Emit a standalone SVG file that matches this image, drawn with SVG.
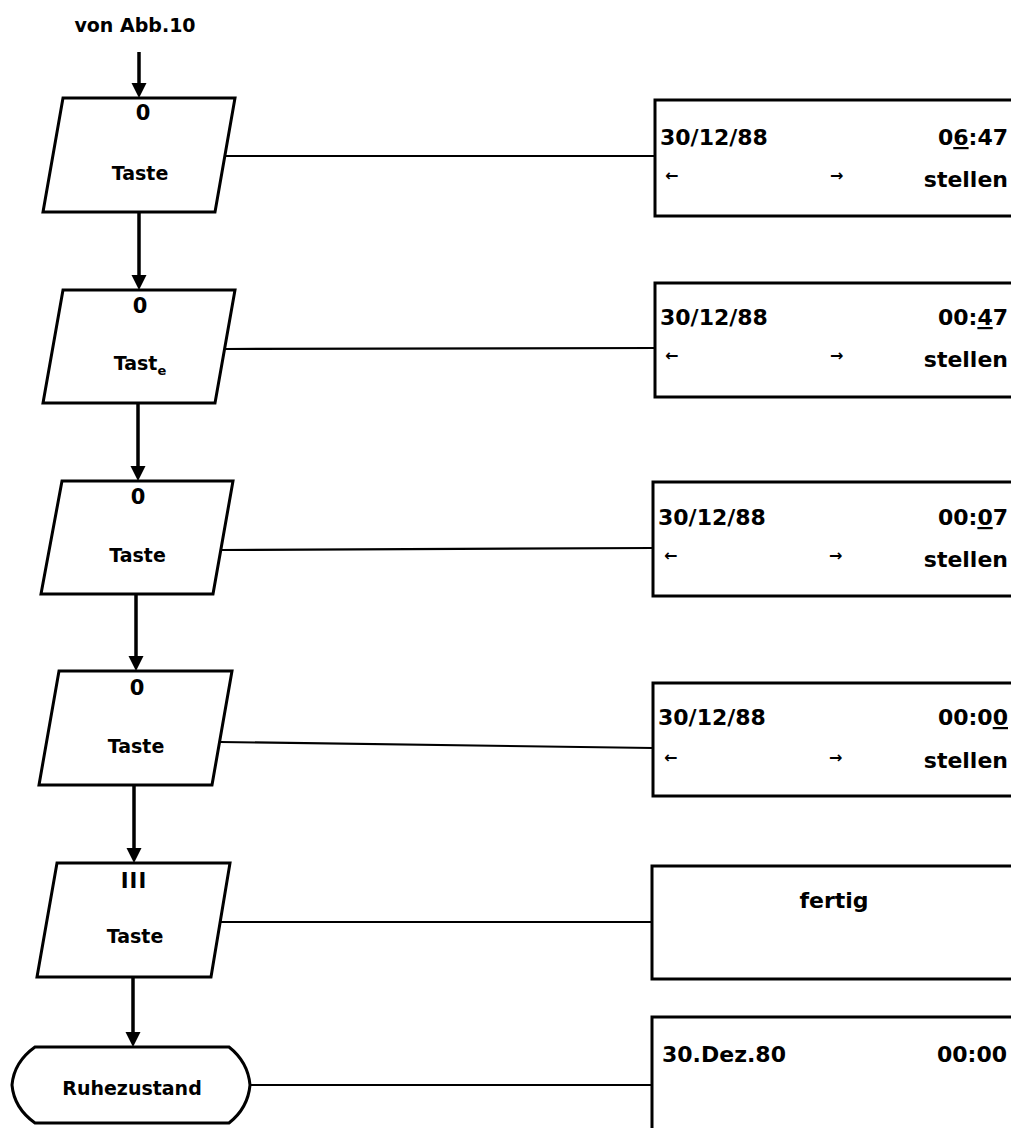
<svg xmlns="http://www.w3.org/2000/svg" width="1011" height="1128" viewBox="0 0 1011 1128">
<style>
  .shape { fill: #fff; stroke: #000; stroke-width: 3; stroke-linejoin: miter; }
  .box { fill: #fff; stroke: #000; stroke-width: 3; }
  .conn { stroke: #000; stroke-width: 2.2; fill: none; }
  .flow { stroke: #000; stroke-width: 3.5; fill: none; marker-end: url(#ah); }
  text { font-family: "DejaVu Sans", "Liberation Sans", sans-serif; font-weight: bold; fill: #000; }
  .lbl { font-size: 19px; text-anchor: middle; }
  .key { font-size: 21px; text-anchor: middle; }
  .disp { font-size: 22px; }
  .end { text-anchor: end; }
  .arr { font-size: 16px; }
  .ul { text-decoration: underline; }
</style>
<defs>
  <marker id="ah" markerUnits="userSpaceOnUse" markerWidth="16" markerHeight="16" viewBox="0 0 16 16" refX="7" refY="8" orient="auto">
    <path d="M0,0.5 L15,8 L0,15.5 Z" fill="#000"/>
  </marker>
</defs>

<rect width="1011" height="1128" fill="#fff"/>

<text x="135" y="32" style="font-size:19px" text-anchor="middle">von Abb.10</text>

<g id="connectors">
  <line class="flow" x1="139" y1="52" x2="139" y2="90"/>
  <line class="flow" x1="139" y1="212" x2="139" y2="282"/>
  <line class="flow" x1="138" y1="403" x2="138" y2="473"/>
  <line class="flow" x1="136" y1="594" x2="136" y2="663"/>
  <line class="flow" x1="134" y1="785" x2="134" y2="855"/>
  <line class="flow" x1="133" y1="977" x2="133" y2="1039"/>
  <line class="conn" x1="225" y1="156" x2="655" y2="156"/>
  <line class="conn" x1="225" y1="349" x2="655" y2="348"/>
  <line class="conn" x1="221" y1="550" x2="653" y2="548"/>
  <line class="conn" x1="220" y1="742" x2="653" y2="748"/>
  <line class="conn" x1="220" y1="922" x2="652" y2="922"/>
  <line class="conn" x1="250" y1="1085" x2="652" y2="1085"/>
</g>

<g id="n1">
  <polygon class="shape" points="63,98 235,98 215,212 43,212"/>
  <text class="key" x="143" y="120">0</text>
  <text class="lbl" x="140" y="180">Taste</text>
</g>
<g id="n2">
  <polygon class="shape" points="63,290 235,290 215,403 43,403"/>
  <text class="key" x="140" y="313">0</text>
  <text class="lbl" x="140" y="370">Tast<tspan style="font-size:13px" dy="5">e</tspan></text>
</g>
<g id="n3">
  <polygon class="shape" points="62,481 233,481 213,594 41,594"/>
  <text class="key" x="138" y="504">0</text>
  <text class="lbl" x="137.5" y="562">Taste</text>
</g>
<g id="n4">
  <polygon class="shape" points="59,671 232,671 212,785 39,785"/>
  <text class="key" x="137" y="695">0</text>
  <text class="lbl" x="136" y="753">Taste</text>
</g>
<g id="n5">
  <polygon class="shape" points="57,863 230,863 211,977 37,977"/>
  <text class="key" x="134" y="888" letter-spacing="1">III</text>
  <text class="lbl" x="135" y="943">Taste</text>
</g>
<g id="n6">
  <path class="shape" d="M35,1047 L229,1047 Q248,1062 250,1085 Q248,1108 229,1123 L35,1123 Q14,1108 12,1085 Q14,1062 35,1047 Z"/>
  <text x="132" y="1095" style="font-size:19px" text-anchor="middle">Ruhezustand</text>
</g>

<g id="d1">
  <rect class="box" x="655" y="100" width="400" height="116"/>
  <text class="disp" x="660" y="145">30/12/88</text>
  <text class="disp end" x="1008" y="145">0<tspan class="ul">6</tspan>:47</text>
  <text class="arr" x="665" y="181">←</text>
  <text class="arr" x="830" y="181">→</text>
  <text class="disp end" x="1008" y="187">stellen</text>
</g>
<g id="d2">
  <rect class="box" x="655" y="283" width="400" height="114"/>
  <text class="disp" x="660" y="325">30/12/88</text>
  <text class="disp end" x="1008" y="325">00:<tspan class="ul">4</tspan>7</text>
  <text class="arr" x="665" y="361">←</text>
  <text class="arr" x="830" y="361">→</text>
  <text class="disp end" x="1008" y="367">stellen</text>
</g>
<g id="d3">
  <rect class="box" x="653" y="482" width="400" height="114"/>
  <text class="disp" x="658" y="525">30/12/88</text>
  <text class="disp end" x="1008" y="525">00:<tspan class="ul">0</tspan>7</text>
  <text class="arr" x="664" y="561">←</text>
  <text class="arr" x="829" y="561">→</text>
  <text class="disp end" x="1008" y="567">stellen</text>
</g>
<g id="d4">
  <rect class="box" x="653" y="683" width="400" height="113"/>
  <text class="disp" x="658" y="725">30/12/88</text>
  <text class="disp end" x="1008" y="725">00:0<tspan class="ul">0</tspan></text>
  <text class="arr" x="664" y="763">←</text>
  <text class="arr" x="829" y="763">→</text>
  <text class="disp end" x="1008" y="768">stellen</text>
</g>
<g id="d5">
  <rect class="box" x="652" y="866" width="400" height="113"/>
  <text class="disp" x="834" y="908" text-anchor="middle">fertig</text>
</g>
<g id="d6">
  <rect class="box" x="652" y="1017" width="400" height="150"/>
  <text class="disp" x="662" y="1062">30.Dez.80</text>
  <text class="disp end" x="1007" y="1062">00:00</text>
</g>
</svg>
